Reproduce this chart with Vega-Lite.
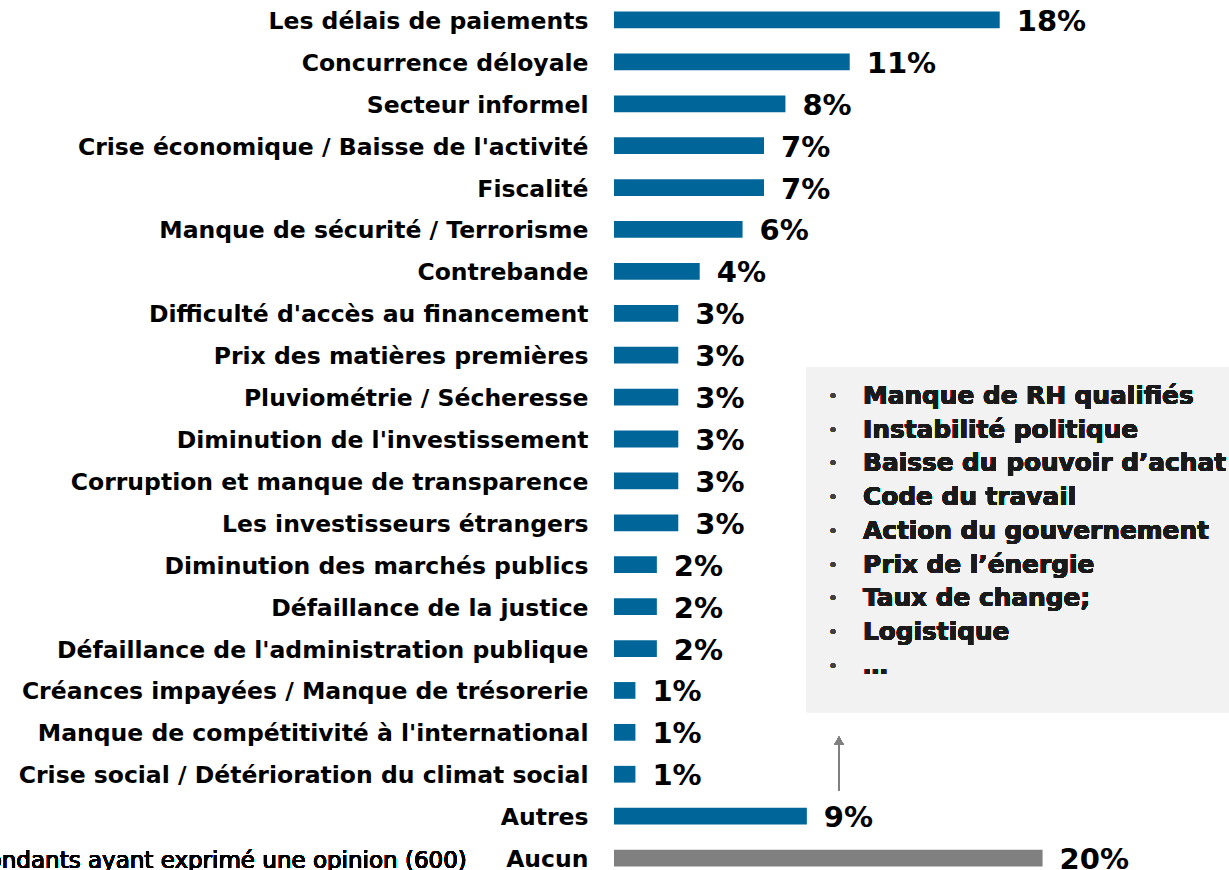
{
  "$schema": "https://vega.github.io/schema/vega-lite/v6.json",
  "width": 615,
  "height": 870,
  "autosize": {"type": "none"},
  "padding": {"left": 614, "top": 0, "right": 0, "bottom": 0},
  "background": "white",
  "config": {"view": {"stroke": null}, "font": "DejaVu Sans"},
  "data": {"values": [
    {"label": "Les délais de paiements", "value": 18, "pct": "18%", "kind": "main"},
    {"label": "Concurrence déloyale", "value": 11, "pct": "11%", "kind": "main"},
    {"label": "Secteur informel", "value": 8, "pct": "8%", "kind": "main"},
    {"label": "Crise économique / Baisse de l'activité", "value": 7, "pct": "7%", "kind": "main"},
    {"label": "Fiscalité", "value": 7, "pct": "7%", "kind": "main"},
    {"label": "Manque de sécurité / Terrorisme", "value": 6, "pct": "6%", "kind": "main"},
    {"label": "Contrebande", "value": 4, "pct": "4%", "kind": "main"},
    {"label": "Difficulté d'accès au financement", "value": 3, "pct": "3%", "kind": "main"},
    {"label": "Prix des matières premières", "value": 3, "pct": "3%", "kind": "main"},
    {"label": "Pluviométrie / Sécheresse", "value": 3, "pct": "3%", "kind": "main"},
    {"label": "Diminution de l'investissement", "value": 3, "pct": "3%", "kind": "main"},
    {"label": "Corruption et manque de transparence", "value": 3, "pct": "3%", "kind": "main"},
    {"label": "Les investisseurs étrangers", "value": 3, "pct": "3%", "kind": "main"},
    {"label": "Diminution des marchés publics", "value": 2, "pct": "2%", "kind": "main"},
    {"label": "Défaillance de la justice", "value": 2, "pct": "2%", "kind": "main"},
    {"label": "Défaillance de l'administration publique", "value": 2, "pct": "2%", "kind": "main"},
    {"label": "Créances impayées / Manque de trésorerie", "value": 1, "pct": "1%", "kind": "main"},
    {"label": "Manque de compétitivité à l'international", "value": 1, "pct": "1%", "kind": "main"},
    {"label": "Crise social / Détérioration du climat social", "value": 1, "pct": "1%", "kind": "main"},
    {"label": "Autres", "value": 9, "pct": "9%", "kind": "main"},
    {"label": "Aucun", "value": 20, "pct": "20%", "kind": "none"}
  ]},
  "resolve": {"scale": {"y": "independent"}, "axis": {"y": "independent"}},
  "layer": [
    {
      "layer": [
        {
          "mark": {"type": "rect", "color": "#f2f2f2"},
          "encoding": {
            "x": {"datum": 9, "type": "quantitative", "scale": {"domain": [0, 28.7], "nice": false, "zero": false}, "axis": null},
            "x2": {"datum": 28.7},
            "y": {"datum": 8.78, "type": "quantitative", "scale": {"domain": [0, 21], "range": [-1, 879], "nice": false, "zero": false}, "axis": null},
            "y2": {"datum": 17.02}
          }
        },
        {
          "mark": {"type": "text", "align": "left", "baseline": "middle", "fontSize": 16, "color": "#404040", "font": "DejaVu Sans", "lineHeight": 33.7,
                   "text": ["•", "•", "•", "•", "•", "•", "•", "•", "•"]},
          "encoding": {
            "x": {"datum": 10.0, "type": "quantitative"},
            "y": {"datum": 9.5, "type": "quantitative"}
          }
        },
        {
          "mark": {"type": "text", "align": "left", "baseline": "middle", "fontSize": 24.8, "fontWeight": "bold", "color": "#1a1a1a", "font": "DejaVu Sans", "lineHeight": 33.7,
                   "text": ["Manque de RH qualifiés", "Instabilité politique", "Baisse du pouvoir d’achat", "Code du travail", "Action du gouvernement", "Prix de l’énergie", "Taux de change;", "Logistique", "…"]},
          "encoding": {
            "x": {"datum": 11.62, "type": "quantitative"},
            "y": {"datum": 9.5, "type": "quantitative"}
          }
        },
        {
          "mark": {"type": "rule", "color": "#808080", "strokeWidth": 2},
          "encoding": {
            "x": {"datum": 10.5, "type": "quantitative"},
            "y": {"datum": 18.88, "type": "quantitative"},
            "y2": {"datum": 17.65}
          }
        },
        {
          "mark": {"type": "point", "shape": "triangle-up", "filled": true, "opacity": 1, "color": "#808080", "size": 90},
          "encoding": {
            "x": {"datum": 10.5, "type": "quantitative"},
            "y": {"datum": 17.7, "type": "quantitative"}
          }
        },
        {
          "mark": {"type": "text", "align": "right", "baseline": "middle", "fontSize": 23, "fontWeight": "normal", "color": "black", "font": "DejaVu Sans",
                   "text": "Base : Répondants ayant exprimé une opinion (600)"},
          "encoding": {
            "x": {"datum": -6.87, "type": "quantitative"},
            "y": {"datum": 20.58, "type": "quantitative"}
          }
        }
      ]
    },
    {
      "encoding": {
        "y": {
          "field": "label", "type": "nominal", "sort": null, "title": null,
          "scale": {"range": [-1, 879], "paddingInner": 0, "paddingOuter": 0},
          "axis": {"orient": "left", "domain": false, "ticks": false, "labelPadding": 26, "labelOffset": 2, "labelFont": "DejaVu Sans", "labelFontWeight": "bold", "labelFontSize": 23.5, "labelColor": "black", "labelLimit": 700}
        }
      },
      "layer": [
        {
          "mark": {"type": "bar", "height": {"band": 0.4}},
          "encoding": {
            "x": {"field": "value", "type": "quantitative", "axis": null, "title": null},
            "color": {"field": "kind", "type": "nominal", "scale": {"domain": ["main", "none"], "range": ["#006699", "#808080"]}, "legend": null}
          }
        },
        {
          "mark": {"type": "text", "align": "left", "baseline": "middle", "dx": 17, "dy": 2, "fontSize": 29, "fontWeight": "bold", "color": "black", "font": "DejaVu Sans"},
          "encoding": {
            "x": {"field": "value", "type": "quantitative"},
            "text": {"field": "pct", "type": "nominal"}
          }
        }
      ]
    }
  ]
}
